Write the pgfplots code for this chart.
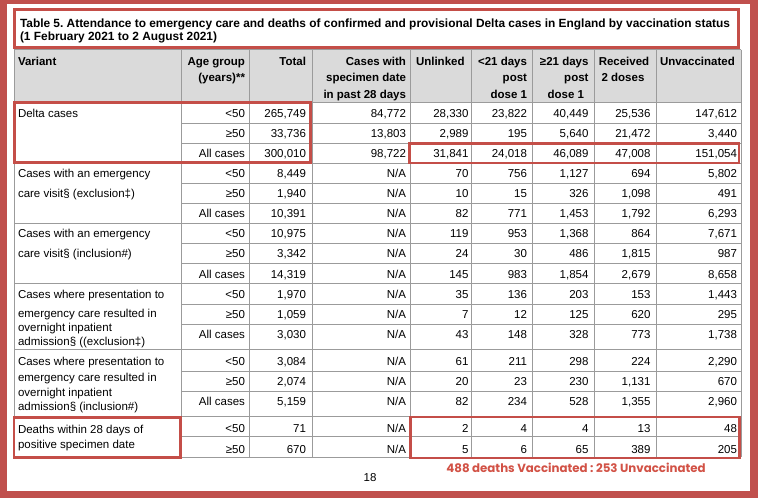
\documentclass[border=0pt]{standalone}
\usepackage{pgfplots}
\pgfplotsset{compat=1.18}
\usepackage{fontspec}
\setmainfont{Liberation Sans}
\newfontfamily\annfont{Poppins}
\frenchspacing
\definecolor{frame}{RGB}{192,80,77}
\definecolor{boxred}{RGB}{196,78,72}
\definecolor{anncol}{RGB}{210,82,70}
\definecolor{gridc}{RGB}{155,155,155}
\definecolor{hdr}{RGB}{218,218,218}
\newcommand\fs{\fontsize{11.5}{13.5}\selectfont}
\newcommand\R[3]{\node[anchor=base east] at (axis cs:#1,#2) {#3};}
\newcommand\Lt[3]{\node[anchor=base west] at (axis cs:#1,#2) {#3};}
\newcommand\C[3]{\node[anchor=base] at (axis cs:#1,#2) {#3};}
\newcommand\drow[9]{\R{245}{#1}{#2}\R{306}{#1}{#3}\R{406}{#1}{#4}\R{468.5}{#1}{#5}\R{527}{#1}{#6}\R{588.5}{#1}{#7}\R{650.5}{#1}{#8}\R{737}{#1}{#9}}
\begin{document}
\begin{tikzpicture}[every node/.style={inner sep=0pt,outer sep=0pt,font=\fs}]
\begin{axis}[width=758pt,height=498pt,scale only axis,
  xmin=0,xmax=758,ymin=0,ymax=498,y dir=reverse,
  hide axis,clip=false]
% frame
\fill[frame] (axis cs:0,0) rectangle (axis cs:758,498);
\fill[white] (axis cs:7,4) rectangle (axis cs:750,491);
% header background
\fill[hdr] (axis cs:14,49.5) rectangle (axis cs:741,102);
% grid lines
\pgfplotsinvokeforeach{49.5,102,163,223,283,349.3,416.7,457}{\draw[gridc,line width=0.8pt] (axis cs:14,#1) -- (axis cs:741,#1);}
\pgfplotsinvokeforeach{123,143,183,203,243,263,304.5,324.5,371.5,391.7,436.7}{\draw[gridc,line width=0.8pt] (axis cs:181,#1) -- (axis cs:741,#1);}
\pgfplotsinvokeforeach{14,181,249,312,410,471.5,532,594,656,741}{\draw[gridc,line width=0.8pt] (axis cs:#1,49.5) -- (axis cs:#1,457);}
% title
\node[anchor=base west,font=\fontsize{11.9}{13}\selectfont\bfseries] at (axis cs:20,27.7) {Table 5. Attendance to emergency care and deaths of confirmed and provisional Delta cases in England by vaccination status};
\node[anchor=base west,font=\fontsize{11.9}{13}\selectfont\bfseries] at (axis cs:20,40) {(1 February 2021 to 2 August 2021)};
% header
\begin{scope}[every node/.append style={font=\fs\bfseries}]
\Lt{18}{65}{Variant}
\R{245}{65}{Age group}\R{245}{81.5}{(years)**}
\R{306}{65}{Total}
\R{406}{65}{Cases with}\R{406}{81.5}{specimen date}\R{406}{98}{in past 28 days}
\Lt{416}{65}{Unlinked}
\R{527}{65}{<21 days}\R{527}{81.5}{post}\R{527}{98}{dose 1}
\R{588.5}{65}{≥21 days}\R{588.5}{81.5}{post}\R{584}{98}{dose 1}
\C{624}{65}{Received}\C{623}{81.5}{2 doses}
\Lt{660}{65}{Unvaccinated}
\end{scope}
% variant column
\Lt{18}{117.8}{Delta cases}
\Lt{18}{177.5}{Cases with an emergency}
\Lt{18}{197.5}{care visit§ (exclusion‡)}
\Lt{18}{237.5}{Cases with an emergency}
\Lt{18}{257.5}{care visit§ (inclusion\#)}
\Lt{18}{298.5}{Cases where presentation to}
\Lt{18}{317.5}{emergency care resulted in}
\Lt{18}{331.5}{overnight inpatient}
\Lt{18}{345.5}{admission§ ((exclusion‡)}
\Lt{18}{365}{Cases where presentation to}
\Lt{18}{381.5}{emergency care resulted in}
\Lt{18}{396}{overnight inpatient}
\Lt{18}{410.5}{admission§ (inclusion\#)}
\Lt{18}{433}{Deaths within 28 days of}
\Lt{18}{448}{positive specimen date}
% data rows
\drow{117.5}{<50}{265,749}{84,772}{28,330}{23,822}{40,449}{25,536}{147,612}
\drow{137.5}{≥50}{33,736}{13,803}{2,989}{195}{5,640}{21,472}{3,440}
\drow{157.5}{All cases}{300,010}{98,722}{31,841}{24,018}{46,089}{47,008}{151,054}
\drow{177.5}{<50}{8,449}{N/A}{70}{756}{1,127}{694}{5,802}
\drow{197.5}{≥50}{1,940}{N/A}{10}{15}{326}{1,098}{491}
\drow{217.5}{All cases}{10,391}{N/A}{82}{771}{1,453}{1,792}{6,293}
\drow{237.5}{<50}{10,975}{N/A}{119}{953}{1,368}{864}{7,671}
\drow{257.5}{≥50}{3,342}{N/A}{24}{30}{486}{1,815}{987}
\drow{278}{All cases}{14,319}{N/A}{145}{983}{1,854}{2,679}{8,658}
\drow{298.5}{<50}{1,970}{N/A}{35}{136}{203}{153}{1,443}
\drow{318.5}{≥50}{1,059}{N/A}{7}{12}{125}{620}{295}
\drow{338.5}{All cases}{3,030}{N/A}{43}{148}{328}{773}{1,738}
\drow{365}{<50}{3,084}{N/A}{61}{211}{298}{224}{2,290}
\drow{385.5}{≥50}{2,074}{N/A}{20}{23}{230}{1,131}{670}
\drow{405.7}{All cases}{5,159}{N/A}{82}{234}{528}{1,355}{2,960}
\drow{432.8}{<50}{71}{N/A}{2}{4}{4}{13}{48}
\drow{453}{≥50}{670}{N/A}{5}{6}{65}{389}{205}
% red highlight boxes
\draw[boxred,line width=2.8pt] (axis cs:14.5,9.5) rectangle (axis cs:738.5,47.5);
\draw[boxred,line width=2.8pt] (axis cs:14.5,102.5) rectangle (axis cs:310.5,162.5);
\draw[boxred,line width=2.8pt] (axis cs:409.5,143.5) rectangle (axis cs:739,163);
\draw[boxred,line width=2.8pt] (axis cs:14,417.5) rectangle (axis cs:180.5,457.5);
\draw[boxred,line width=2.8pt] (axis cs:410.5,417) rectangle (axis cs:739.5,458);
% footer
\C{370}{481}{18}
\node[anchor=base,text=anncol,font=\annfont\fontsize{11.8}{13}\selectfont\bfseries] at (axis cs:576,472.5) {488 deaths Vaccinated : 253 Unvaccinated};
\end{axis}
\end{tikzpicture}
\end{document}
